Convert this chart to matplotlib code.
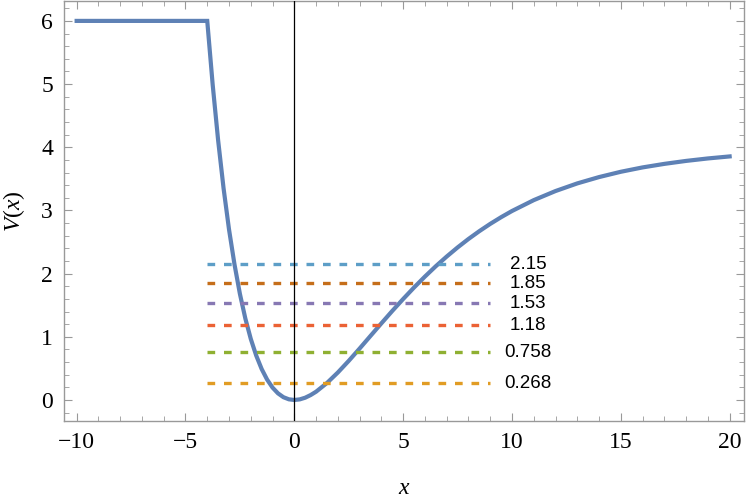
import matplotlib
matplotlib.use("Agg")
import matplotlib.pyplot as plt
from matplotlib.ticker import MultipleLocator

plt.rcParams["font.family"] = "Liberation Serif"
plt.rcParams["mathtext.fontset"] = "custom"
plt.rcParams["mathtext.rm"] = "Liberation Serif"
plt.rcParams["mathtext.it"] = "Liberation Serif:italic"

# potential curve (flat wall at 6 for x < -4)
x_pts = [-10, -4, -3.75, -3.5, -3.25, -3, -2.75, -2.5, -2.25, -2, -1.75, -1.5,
         -1.25, -1, -0.75, -0.5, -0.25, 0, 0.25, 0.5, 0.75, 1, 1.5, 2, 2.5, 3,
         3.5, 4, 4.5, 5, 5.5, 6, 6.5, 7, 7.5, 8, 8.5, 9, 9.5, 10, 11, 12, 13,
         14, 15, 16, 17, 18, 19, 20]
v_pts = [6.0, 6.0, 4.99, 4.11, 3.35, 2.70, 2.15, 1.68, 1.29, 0.967, 0.703, 0.490,
         0.323, 0.196, 0.105, 0.044, 0.0105, 0.0, 0.0095, 0.036, 0.078, 0.131,
         0.269, 0.435, 0.619, 0.814, 1.014, 1.213, 1.409, 1.598, 1.780, 1.953,
         2.117, 2.270, 2.414, 2.548, 2.672, 2.787, 2.893, 2.991, 3.163, 3.307,
         3.428, 3.528, 3.612, 3.681, 3.737, 3.784, 3.823, 3.855]

# energy levels
levels = [0.268, 0.758, 1.18, 1.53, 1.85, 2.15]
level_labels = ["0.268", "0.758", "1.18", "1.53", "1.85", "2.15"]
level_colors = ["#E19C24", "#8FB032", "#EB6235", "#8778B3", "#C56E1A", "#5D9EC7"]
level_x0, level_x1 = -4, 9
label_x = 10.75

fig = plt.figure(figsize=(7.47, 5.0), dpi=100)
ax = fig.add_axes([0.0857, 0.1586, 0.9103, 0.8394])

ax.plot(x_pts, v_pts, color="#5E81B5", linewidth=3.0, solid_joinstyle="miter", zorder=2)

for e, lab, c in zip(levels, level_labels, level_colors):
    ax.plot([level_x0, level_x1], [e, e], color=c, linewidth=2.4,
            dashes=(2.3, 2.65), zorder=3)
    ax.text(label_x, e, lab, ha="center", va="center",
            family="Liberation Sans", fontsize=13.5, color="black")

ax.axvline(0, color="black", linewidth=0.9, zorder=4)

ax.set_xlim(-10.58, 20.66)
ax.set_ylim(-0.328, 6.315)

ax.xaxis.set_major_locator(MultipleLocator(5))
ax.xaxis.set_minor_locator(MultipleLocator(1))
ax.yaxis.set_major_locator(MultipleLocator(1))
ax.yaxis.set_minor_locator(MultipleLocator(0.2))

ax.set_xticks([-10, -5, 0, 5, 10, 15, 20])
ax.set_xticklabels(["\u221210", "\u22125", "0", "5", "10", "15", "20"])

for s in ax.spines.values():
    s.set_color("#999999")
    s.set_linewidth(1.0)
ax.tick_params(which="both", direction="in", top=True, right=True, color="#999999")
ax.tick_params(which="major", length=5.8, width=0.8, labelsize=17, pad=8)
ax.tick_params(which="minor", length=3.4, width=0.6)

ax.set_xlabel("$x$", fontsize=17, labelpad=18)
ax.set_ylabel("$V(x)$", fontsize=17, labelpad=10)

fig.savefig("out.png", dpi=100)
